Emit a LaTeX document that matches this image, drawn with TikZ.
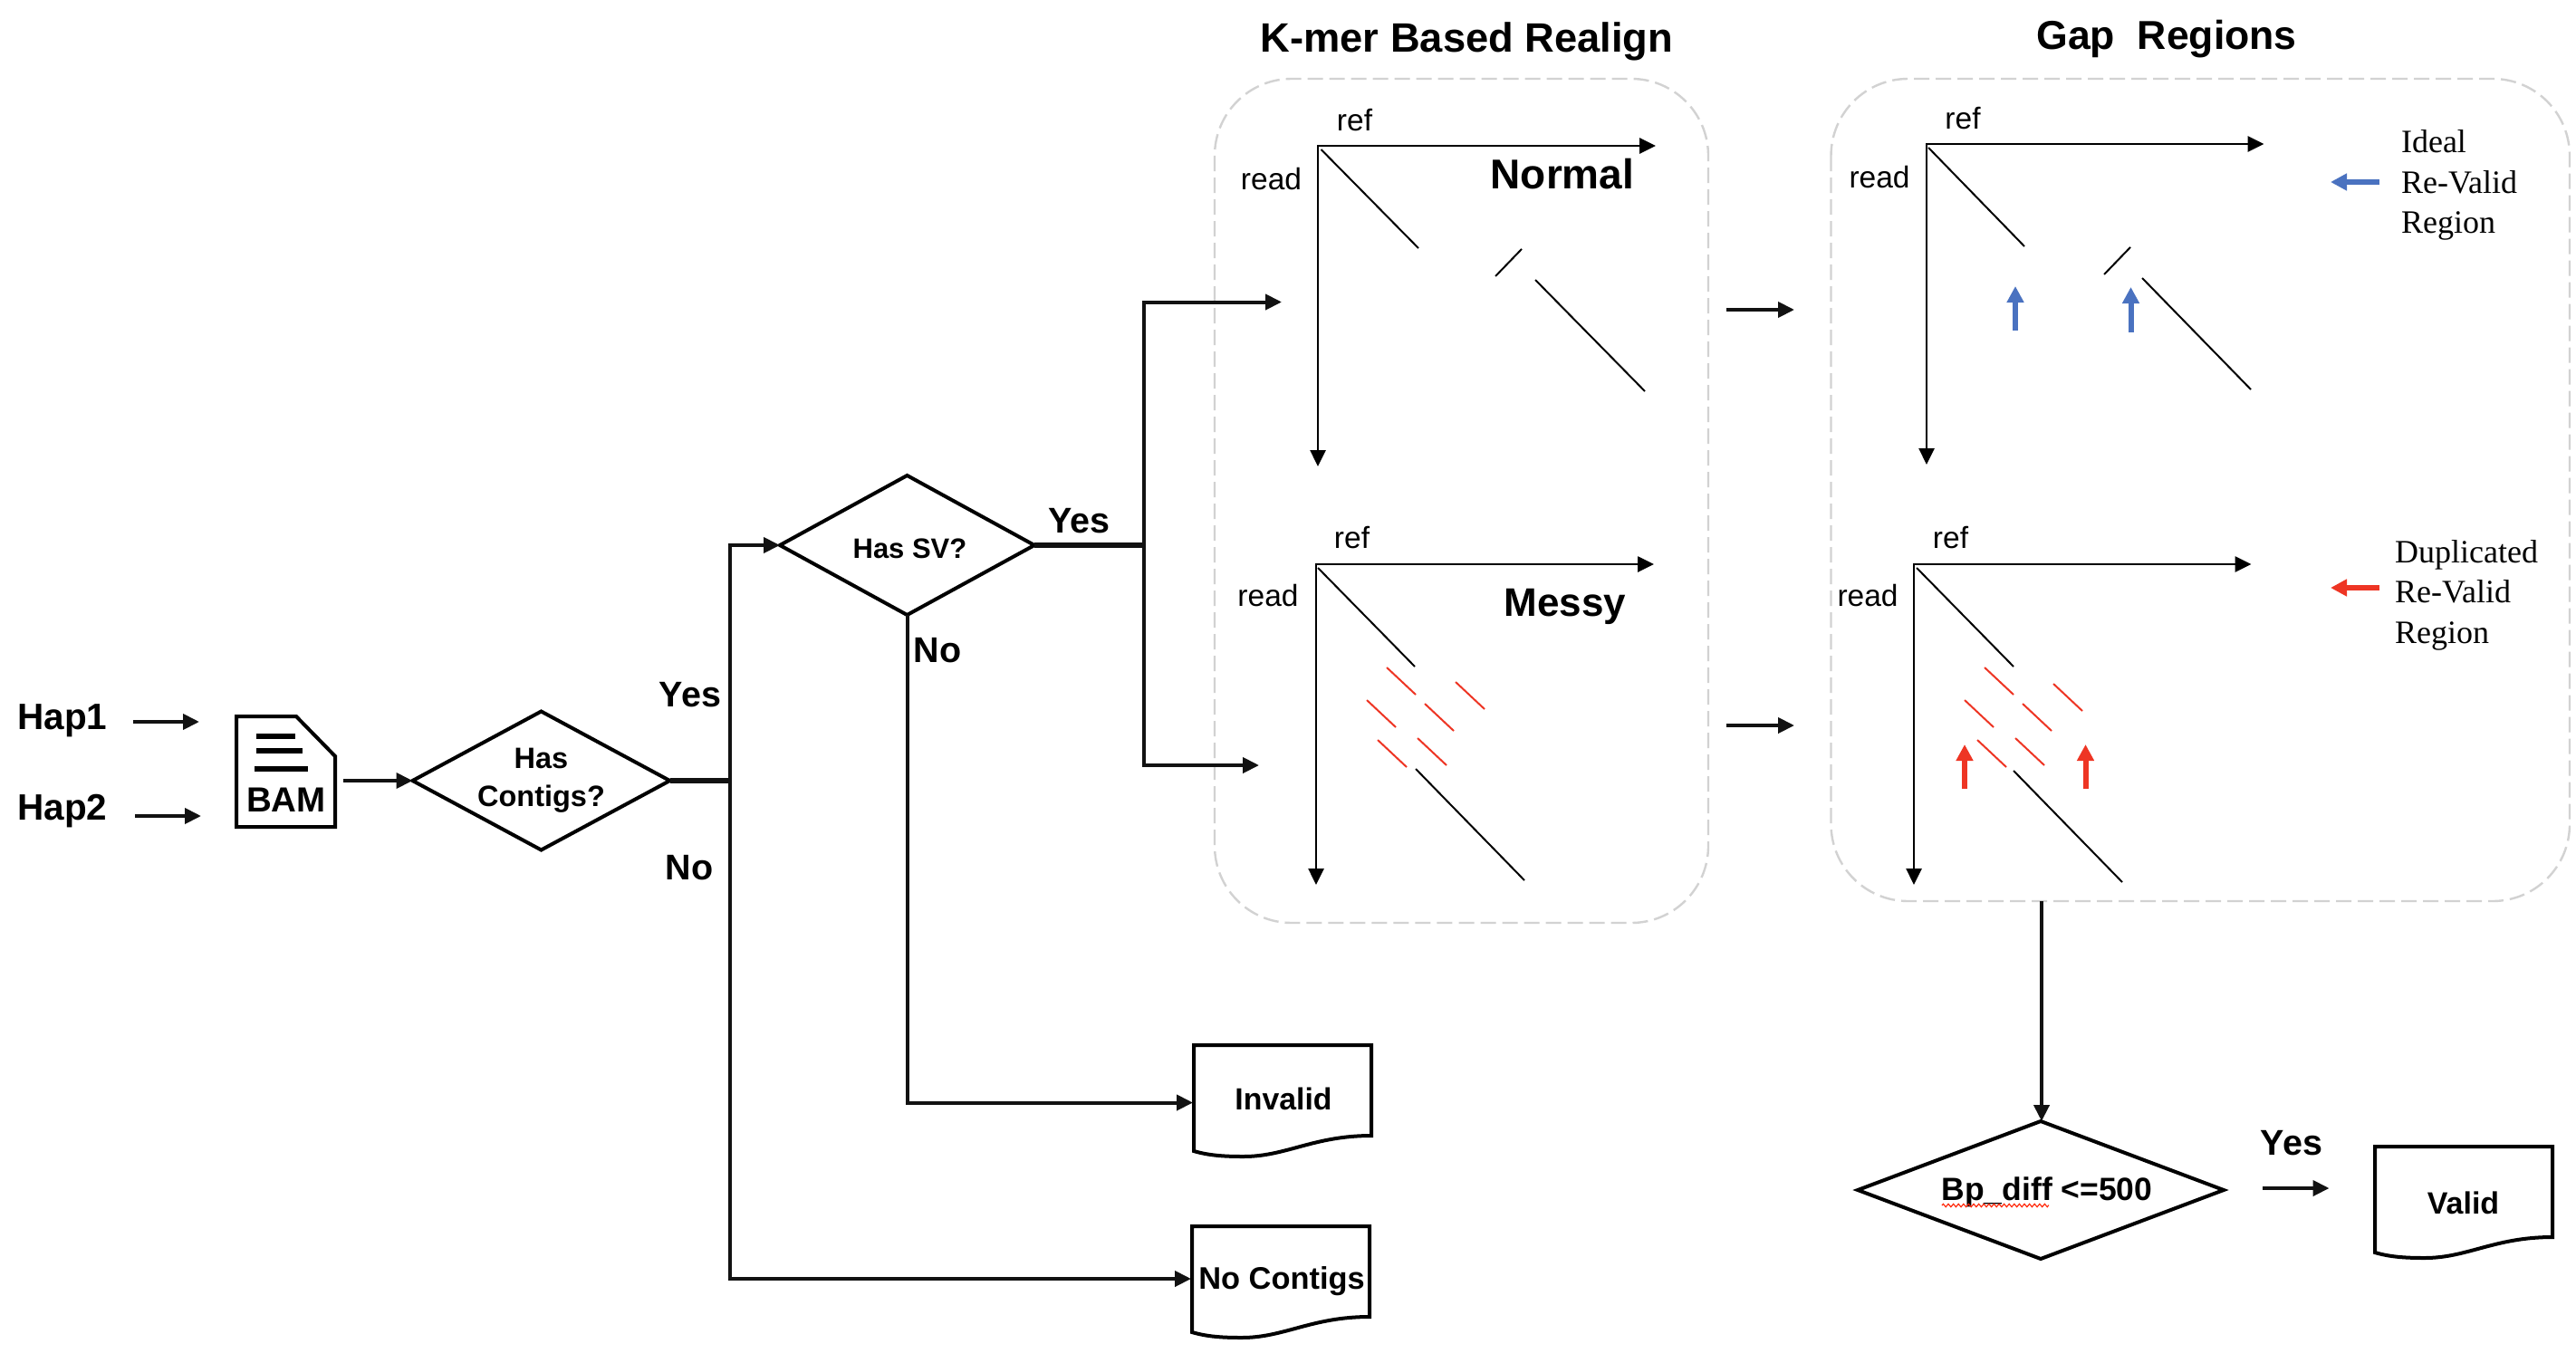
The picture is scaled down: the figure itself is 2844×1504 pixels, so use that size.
\documentclass[tikz,border=0pt]{standalone}
\usepackage{fontspec}
\setmainfont{Liberation Sans}
\newfontfamily\timesf{Liberation Serif}
\usetikzlibrary{arrows.meta,shapes.geometric,decorations.pathmorphing}
\definecolor{panelgray}{HTML}{D2D2D2}
\definecolor{bluearrow}{HTML}{4A72C0}
\definecolor{redarrow}{HTML}{EE3524}
\tikzset{
  txt/.style={inner sep=0pt,outer sep=0pt,anchor=base},
  boldlbl/.style={txt,font=\bfseries\fontsize{#1}{#1}\selectfont},
  plainlbl/.style={txt,font=\fontsize{33.5}{33.5}\selectfont},
  serifnote/.style={txt,anchor=base west,font=\timesf\fontsize{36}{36}\selectfont},
  decision/.style={draw,line width=4pt,shape=diamond,inner sep=0pt,outer sep=0pt,align=center,
    font=\bfseries\fontsize{32.5}{42}\selectfont},
  tip/.style={-{Triangle[length=18pt,width=17pt]}},
  flow/.style={tip,line width=4pt,black!93},
  heavy/.style={line width=5.5pt,black!93},
  axis/.style={tip,line width=2.6pt,black},
  diag/.style={line width=2pt,black},
  reddiag/.style={line width=2pt,redarrow},
  panel/.style={draw=panelgray,line width=2.4pt,dash pattern=on 17pt off 7pt,rounded corners=85pt},
  bluemark/.style={-{Triangle[length=18pt,width=18pt]},line width=6pt,bluearrow},
  redmark/.style={-{Triangle[length=18pt,width=18pt]},line width=6pt,redarrow},
  docwave/.pic={
    \draw[line width=4pt,line join=miter] (0,0) -- (196,0) -- (196,100)
      .. controls (132,100) and (102,123) .. (55,123)
      .. controls (34,123) and (17,122) .. (0,117) -- cycle;
  }
}
\begin{document}
\begin{tikzpicture}[x=1pt,y=-1pt]
\useasboundingbox[fill=white] (0,0) rectangle (2844,1504);

% panels
\draw[panel] (1341,87) rectangle (1886,1019);
\draw[panel] (2021.5,87) rectangle (2837,995);

% titles
\node[boldlbl=45.3] (title1) at (1619.5,57.5) {K-mer Based Realign};
\node[boldlbl=44.6] (title2) at (2392,55) {Gap\ \ Regions};

% inputs
\node[boldlbl=40.5] (hap1) at (69,805) {Hap1};
\node[boldlbl=40.5] (hap2) at (69,905) {Hap2};
\coordinate (hap1a) at (147,797);
\coordinate (hap1b) at (220,797);
\coordinate (hap2a) at (149,901);
\coordinate (hap2b) at (222,901);
\draw[flow] (hap1a) -- (hap1b);
\draw[flow] (hap2a) -- (hap2b);

% BAM file
\draw[line width=4pt,line join=miter] (261,791) -- (327,791) -- (370,835) -- (370,913) -- (261,913) -- cycle;
\draw[line width=6pt] (283,813) -- (325.5,813);
\draw[line width=6pt] (283,829) -- (334,829);
\draw[line width=6pt] (281,849) -- (340,849);
\node[boldlbl=38.5] (bam) at (316,896) {BAM};
\coordinate (bamout) at (379,862);

% decisions
\node[decision,aspect=1.857,minimum width=284pt,minimum height=153pt] (hascontigs) at (597.5,862) {Has\\Contigs?};
\node[decision,aspect=1.814,minimum width=281pt,minimum height=154pt,text height=28pt,text depth=0pt,font=\bfseries\fontsize{31}{40}\selectfont] (hassv) at (1001.5,602) {\hspace*{6pt}Has SV?};
\node[decision,aspect=2.66,minimum width=404pt,minimum height=152pt,text height=25pt,text depth=3pt,font=\bfseries\fontsize{35.5}{40}\selectfont] (bpdiff) at (2253,1314) {\hspace*{14pt}Bp\_diff <=500};
\coordinate (sq1) at (2144,1331);
\coordinate (sq2) at (2262,1331);
\draw[line width=1.1pt,red!75!orange,decorate,decoration={zigzag,amplitude=1.7pt,segment length=5.6pt}] (sq1) -- (sq2);

\draw[flow] (bamout) -- (hascontigs.west);

% documents
\pic at (1318,1154) {docwave};
\pic at (1316,1354) {docwave};
\pic at (2622,1266) {docwave};
\node[boldlbl=33.8] (invalid) at (1417,1225) {Invalid};
\node[boldlbl=34.4] (nocontigs) at (1415,1423) {No Contigs};
\node[boldlbl=34] (valid) at (2719.5,1340) {Valid};
\coordinate (invalidin) at (1317,1217.5);
\coordinate (nocontigsin) at (1315,1412);

% connectors
\coordinate (j1) at (806,862);
\coordinate (j2) at (1263,602);
\coordinate (normalin) at (1415,333.5);
\coordinate (messyin) at (1390,845);
\draw[heavy] (hascontigs.east) -- (j1);
\draw[heavy] (hassv.east) -- (j2);
\draw[flow] (j1) |- (hassv.west);
\draw[flow] (j1) |- (nocontigsin);
\draw[flow] (hassv.south) |- (invalidin);
\draw[flow] (j2) |- (normalin);
\draw[flow] (j2) |- (messyin);

\node[boldlbl=39.5] (yes1) at (762,780) {Yes};
\node[boldlbl=39.5] (no1) at (761,971.5) {No};
\node[boldlbl=39.5] (yes2) at (1191.5,588) {Yes};
\node[boldlbl=39.5] (no2) at (1035,731) {No};

% panel links
\coordinate (l1a) at (1906,342);
\coordinate (l1b) at (1981,342);
\coordinate (l2a) at (1906,801);
\coordinate (l2b) at (1981,801);
\draw[flow] (l1a) -- (l1b);
\draw[flow] (l2a) -- (l2b);
\coordinate (gapout) at (2254,995);
\coordinate (bpin) at (2254,1238);
\draw[flow] (gapout) -- (bpin);
\node[boldlbl=39.5] (yes3) at (2530,1275.5) {Yes};
\coordinate (ya) at (2498,1312);
\coordinate (yb) at (2571.5,1312);
\draw[flow] (ya) -- (yb);

% Normal plot
\draw[axis] (1455,161) -- (1828,161);
\draw[axis] (1455,160) -- (1455,515);
\draw[diag] (1458.5,165) -- (1566,274);
\draw[diag] (1680,275) -- (1651,305);
\draw[diag] (1695,309) -- (1816,432);
\node[plainlbl] (ref1) at (1495.5,144) {ref};
\node[plainlbl] (read1) at (1403.5,209) {read};
\node[boldlbl=46] (normal) at (1725,208) {Normal};

% Messy plot
\draw[axis] (1453,623) -- (1826,623);
\draw[axis] (1453,622) -- (1453,977);
\draw[diag] (1455,627) -- (1562,736);
\draw[diag] (1563,849) -- (1683,972);
\draw[reddiag] (1531,737) -- (1563,767);
\draw[reddiag] (1607,753) -- (1639,783);
\draw[reddiag] (1509,773) -- (1541,803);
\draw[reddiag] (1573,777) -- (1605,807);
\draw[reddiag] (1521,817) -- (1553,847);
\draw[reddiag] (1565,815) -- (1597,845);
\node[plainlbl] (ref2) at (1492.5,605) {ref};
\node[plainlbl] (read2) at (1400,669) {read};
\node[boldlbl=44] (messy) at (1728,680) {Messy};

% Gap ideal plot
\draw[axis] (2127,159) -- (2499.5,159);
\draw[axis] (2127,158) -- (2127,513);
\draw[diag] (2129,163) -- (2235,272);
\draw[diag] (2352,273) -- (2323,303);
\draw[diag] (2365,307) -- (2485,430);
\draw[bluemark] (2225,365) -- (2225,316);
\draw[bluemark] (2352.5,367) -- (2352.5,317);
\draw[bluemark] (2627,201) -- (2573,201);
\node[plainlbl] (ref3) at (2167,142) {ref};
\node[plainlbl] (read3) at (2075,207) {read};
\node[serifnote] (ideal1) at (2651,168) {Ideal};
\node[serifnote] (ideal2) at (2651,213) {Re-Valid};
\node[serifnote] (ideal3) at (2651,257) {Region};

% Gap duplicated plot
\draw[axis] (2113,623) -- (2485.5,623);
\draw[axis] (2113,622) -- (2113,977);
\draw[diag] (2116,627) -- (2223,736);
\draw[diag] (2223,851) -- (2343,974);
\draw[reddiag] (2191,737) -- (2223,767);
\draw[reddiag] (2267,755) -- (2299,785);
\draw[reddiag] (2169,773) -- (2201,803);
\draw[reddiag] (2233,777) -- (2265,807);
\draw[reddiag] (2183,817) -- (2215,847);
\draw[reddiag] (2225,815) -- (2257,845);
\draw[redmark] (2169,871) -- (2169,822);
\draw[redmark] (2302.5,871) -- (2302.5,822);
\draw[redmark] (2627,649) -- (2573,649);
\node[plainlbl] (ref4) at (2153.5,605) {ref};
\node[plainlbl] (read4) at (2062,669) {read};
\node[serifnote] (dup1) at (2644,621) {Duplicated};
\node[serifnote] (dup2) at (2644,665) {Re-Valid};
\node[serifnote] (dup3) at (2644,710) {Region};
\end{tikzpicture}
\end{document}
